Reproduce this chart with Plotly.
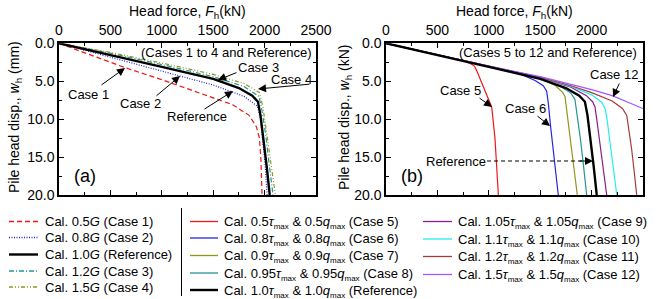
import plotly.graph_objects as go

W, H = 657, 299

# ---------------- data ----------------
# Panel (a): shear modulus variation
ref_F = [0, 250, 500, 1000, 1500, 1750, 1880, 1935, 1960, 1990, 2020, 2050]
ref_w = [0, 0.75, 1.5, 3.1, 4.7, 5.9, 6.9, 7.7, 9.5, 12.5, 16.2, 20.0]

case1_F = [0, 200, 640, 1000, 1370, 1690, 1850, 1920, 1950, 1965, 1975]
case1_w = [0, 1.0, 3.2, 4.8, 6.6, 8.1, 9.5, 11.0, 12.5, 15.5, 20.0]

case2_F = [0, 500, 1000, 1500, 1800, 1930, 1960, 1985, 2005, 2025]
case2_w = [0, 1.8, 3.7, 5.5, 7.0, 8.3, 10.0, 13.0, 16.0, 20.0]

case3_F = [0, 500, 1000, 1500, 1800, 1945, 1975, 2010, 2045, 2082]
case3_w = [0, 1.3, 2.8, 4.4, 5.7, 7.0, 8.9, 12.0, 16.0, 20.0]

case4_F = [0, 500, 1000, 1500, 1800, 1950, 1985, 2020, 2060, 2105]
case4_w = [0, 1.2, 2.6, 4.1, 5.3, 6.5, 8.5, 12.0, 16.0, 20.0]

# Panel (b): strength variation
case5_F = [0, 400, 750, 820, 860, 882, 950, 1028, 1060, 1086, 1093]
case5_w = [0, 1.2, 2.3, 2.65, 3.0, 3.6, 5.8, 8.4, 12.5, 18.0, 20.0]

case6_F = [0, 500, 1000, 1300, 1450, 1530, 1563, 1580, 1600, 1630, 1676]
case6_w = [0, 1.5, 3.0, 4.0, 4.9, 5.6, 6.3, 8.0, 10.8, 14.5, 20.0]

case7_F = [0, 500, 1000, 1500, 1650, 1720, 1741, 1760, 1790, 1825, 1861]
case7_w = [0, 1.5, 3.0, 4.6, 5.6, 6.5, 7.0, 9.0, 12.0, 16.0, 20.0]

case8_F = [0, 500, 1000, 1500, 1700, 1800, 1838, 1855, 1890, 1920, 1952]
case8_w = [0, 1.5, 3.0, 4.6, 5.7, 6.6, 7.4, 9.0, 12.5, 16.0, 20.0]

case9_F = [0, 500, 1000, 1500, 1800, 1950, 2010, 2033, 2050, 2080, 2115, 2147]
case9_w = [0, 1.5, 3.0, 4.5, 5.8, 6.9, 7.7, 8.4, 10.0, 13.0, 16.5, 20.0]

case10_F = [0, 500, 1000, 1500, 1800, 2000, 2100, 2131, 2150, 2180, 2215, 2245]
case10_w = [0, 1.5, 3.0, 4.5, 5.7, 6.8, 7.8, 8.6, 10.0, 13.0, 16.5, 20.0]

case11_F = [0, 500, 1000, 1500, 1800, 2000, 2200, 2300, 2342, 2360, 2390, 2415, 2439]
case11_w = [0, 1.5, 3.0, 4.5, 5.6, 6.5, 7.6, 8.6, 9.5, 11.0, 14.0, 17.0, 20.0]

case12_F = [0, 500, 1000, 1500, 1800, 2000, 2200, 2400, 2500]
case12_w = [0, 1.5, 3.0, 4.4, 5.4, 6.1, 6.9, 8.0, 8.6]

FONT = "Liberation Sans, Arial, sans-serif"

# ---------------- styles ----------------
C_RED = "#f01818"
C_BLUE = "#2424e0"
C_OLIVE = "#94941c"
C_TEAL = "#249494"
C_PURPLE = "#8c1c8c"
C_CYAN = "#22eeee"
C_WINE = "#a23c3c"
C_VIOLET = "#a456ff"

DASH1 = "5px,3px"
DASH2 = "1px,1.5px"
DASH3 = "5px,2px,1px,2px"
DASH4 = "4px,2px,1px,2px,1px,2px"

fig = go.Figure()

panel_a = [
    (case1_F, case1_w, C_RED, DASH1, 1.2),
    (case2_F, case2_w, C_BLUE, DASH2, 1.2),
    (case3_F, case3_w, C_TEAL, DASH3, 1.2),
    (case4_F, case4_w, C_OLIVE, DASH4, 1.2),
    (ref_F, ref_w, "black", "solid", 2.4),
]
for F, w, c, d, lw in panel_a:
    fig.add_trace(go.Scatter(x=F, y=w, mode="lines", xaxis="x", yaxis="y",
                             line=dict(color=c, dash=d, width=lw), showlegend=False))

panel_b = [
    (case5_F, case5_w, C_RED),
    (case6_F, case6_w, C_BLUE),
    (case7_F, case7_w, C_OLIVE),
    (case8_F, case8_w, C_TEAL),
    (case9_F, case9_w, C_PURPLE),
    (case10_F, case10_w, C_CYAN),
    (case11_F, case11_w, C_WINE),
    (case12_F, case12_w, C_VIOLET),
]
for F, w, c in panel_b:
    fig.add_trace(go.Scatter(x=F, y=w, mode="lines", xaxis="x2", yaxis="y2",
                             line=dict(color=c, width=1.2), showlegend=False))
fig.add_trace(go.Scatter(x=ref_F, y=ref_w, mode="lines", xaxis="x2", yaxis="y2",
                         line=dict(color="black", width=2.4), showlegend=False))

# ---------------- layout helpers ----------------
def px(x):
    return x / W


def py(y):
    return 1 - y / H


PLOT_TOP, PLOT_BOT = 43.3, 195.0
A_L, A_R = 59.0, 316.0
B_L, B_R = 386.0, 643.0

def xaxis_style(dom):
    return dict(domain=[px(dom[0]), px(dom[1])], range=[0, 2500], side="top",
                dtick=500, ticks="inside", ticklen=5, tickwidth=1, tickcolor="black",
                minor=dict(dtick=250, ticks="inside", ticklen=3, tickcolor="black", showgrid=False),
                showline=True, linewidth=1.5, linecolor="black", mirror="allticks",
                showgrid=False, zeroline=False, automargin=False, ticklabelstandoff=1,
                tickfont=dict(family=FONT, size=14, color="black"), fixedrange=True)


def yaxis_style():
    return dict(domain=[py(PLOT_BOT), py(PLOT_TOP)], range=[20, 0],
                dtick=5, tickformat=".1f", ticks="inside", ticklen=5, tickwidth=1, tickcolor="black",
                minor=dict(dtick=2.5, ticks="inside", ticklen=3, tickcolor="black", showgrid=False),
                showline=True, linewidth=1.5, linecolor="black", mirror="allticks",
                showgrid=False, zeroline=False, automargin=False,
                tickfont=dict(family=FONT, size=14, color="black"), fixedrange=True)


annotations = []
shapes = []


def text(xp, yp, s, size=13, xa="center", ya="middle", angle=0):
    annotations.append(dict(x=px(xp), y=py(yp), xref="paper", yref="paper", text=s,
                            showarrow=False, xanchor=xa, yanchor=ya, textangle=angle,
                            font=dict(family=FONT, size=size, color="black")))


def arrow(tail, tip):
    annotations.append(dict(x=px(tip[0]), y=py(tip[1]), xref="paper", yref="paper", text="",
                            showarrow=True, arrowhead=2, arrowsize=1.6, arrowwidth=1.0,
                            arrowcolor="black", ax=tail[0] - tip[0], ay=tail[1] - tip[1],
                            axref="pixel", ayref="pixel", standoff=0, startstandoff=0))


# axis titles
XT = "Head force, <i>F</i><sub>h</sub>(kN)"
text((A_L + A_R) / 2, 12, XT, size=14)
text((B_L + B_R) / 2, 12, XT, size=14)
text(15, 117, "Pile head disp., <i>w</i><sub>h</sub> (mm)", size=14, angle=-90)
text(345, 117, "Pile head disp., <i>w</i><sub>h</sub> (kN)", size=14, angle=-90)

# panel (a) annotations
text(314, 52.5, "(Cases 1 to 4 and Reference)", xa="right")
text(258, 68, "Case 3")
arrow((238, 72), (218, 80))
text(291, 79.5, "Case 4")
arrow((311, 84), (258, 89))
text(88, 94, "Case 1")
arrow((100, 86), (125, 68))
text(140, 103, "Case 2")
arrow((155, 97), (180, 76))
text(197, 117, "Reference")
arrow((203, 110), (233, 91))
text(85, 176, "(a)", size=18)

# panel (b) annotations
text(639, 52.5, "(Cases 5 to 12 and Reference)", xa="right")
text(614, 74, "Case 12")
arrow((620, 82), (613, 97))
text(460, 90, "Case 5")
arrow((478, 97), (492, 107))
text(525, 108, "Case 6")
arrow((536, 115), (550, 126))
text(456, 161, "Reference")
shapes.append(dict(type="line", xref="paper", yref="paper", x0=px(487), x1=px(582),
                   y0=py(161), y1=py(161), line=dict(color="black", width=1, dash="4px,3px")))
arrow((578, 161), (593, 161))
text(412, 176, "(b)", size=18)

# ---------------- legends (drawn as line samples + text) ----------------
leg_a = [
    ("Cal. 0.5<i>G</i> (Case 1)", C_RED, DASH1, 1.3),
    ("Cal. 0.8<i>G</i> (Case 2)", C_BLUE, DASH2, 1.3),
    ("Cal. 1.0<i>G</i> (Reference)", "black", "solid", 2.4),
    ("Cal. 1.2<i>G</i> (Case 3)", C_TEAL, DASH3, 1.3),
    ("Cal. 1.5<i>G</i> (Case 4)", C_OLIVE, DASH4, 1.3),
]
leg_a_y = [221.5, 237.5, 254.5, 271, 287]

SUB = "<sub><span style='font-size:8px'>max</span></sub>"


def tq(f1, f2, label):
    return f"Cal. {f1}<i>τ</i>{SUB} & {f2}<i>q</i>{SUB} ({label})"


leg_b = [
    (tq("0.5", "0.5", "Case 5"), C_RED, 1.3),
    (tq("0.8", "0.8", "Case 6"), C_BLUE, 1.3),
    (tq("0.9", "0.9", "Case 7"), C_OLIVE, 1.3),
    (tq("0.95", "0.95", "Case 8"), C_TEAL, 1.3),
    (tq("1.0", "1.0", "Reference"), "black", 2.4),
]
leg_b_y = [221.5, 238, 255.5, 273, 290]

leg_c = [
    (tq("1.05", "1.05", "Case 9"), C_PURPLE, 1.3),
    (tq("1.1", "1.1", "Case 10"), C_CYAN, 1.3),
    (tq("1.2", "1.2", "Case 11"), C_WINE, 1.3),
    (tq("1.5", "1.5", "Case 12"), C_VIOLET, 1.3),
]
leg_c_y = [221.5, 239, 256.5, 274.5]

for (s, c, d, lw), yy in zip(leg_a, leg_a_y):
    shapes.append(dict(type="line", xref="paper", yref="paper", x0=px(9), x1=px(38),
                       y0=py(yy), y1=py(yy), line=dict(color=c, width=lw, dash=d)))
    text(43, yy, s, xa="left")

for (s, c, lw), yy in zip(leg_b, leg_b_y):
    shapes.append(dict(type="line", xref="paper", yref="paper", x0=px(190), x1=px(218),
                       y0=py(yy), y1=py(yy), line=dict(color=c, width=lw)))
    text(222, yy + 1.2, s, xa="left")

for (s, c, lw), yy in zip(leg_c, leg_c_y):
    shapes.append(dict(type="line", xref="paper", yref="paper", x0=px(423), x1=px(452),
                       y0=py(yy), y1=py(yy), line=dict(color=c, width=lw)))
    text(456, yy + 1.2, s, xa="left")

shapes.append(dict(type="line", xref="paper", yref="paper", x0=px(181.5), x1=px(181.5),
                   y0=py(208), y1=py(296), line=dict(color="black", width=1)))

fig.update_layout(
    template="none",
    width=W, height=H,
    margin=dict(l=0, r=0, t=0, b=0),
    paper_bgcolor="white", plot_bgcolor="white",
    showlegend=False,
    font=dict(family=FONT, size=13, color="black"),
    xaxis=dict(xaxis_style((A_L, A_R)), anchor="y"),
    yaxis=dict(yaxis_style(), anchor="x"),
    xaxis2=dict(xaxis_style((B_L, B_R)), anchor="y2"),
    yaxis2=dict(yaxis_style(), anchor="x2"),
    annotations=annotations,
    shapes=shapes,
)

fig.write_html("out.html")
